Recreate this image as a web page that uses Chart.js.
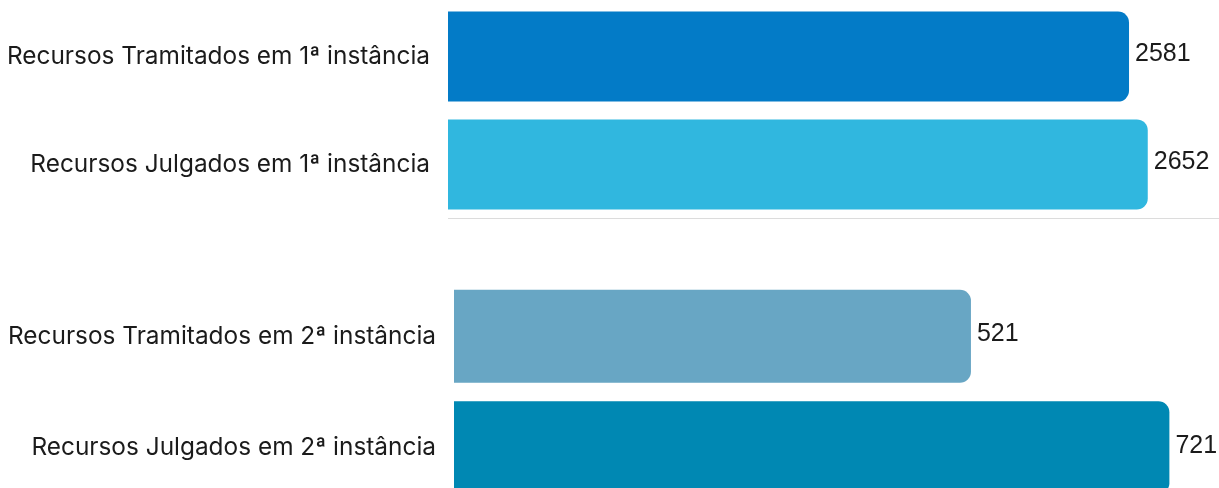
<!DOCTYPE html>
<html>
<head>
<meta charset="utf-8">
<script src="https://cdn.jsdelivr.net/npm/chart.js@4"></script>
<style>
	html, body { margin: 0; padding: 0; background: #fff; overflow: hidden; }
	body { width: 1219px; height: 488px; position: relative; }
	.box { position: absolute; left: 0; width: 1219px; }
	#box1 { top: -30px; height: 281px; }
	#box2 { top: 248px; height: 288px; }
</style>
</head>
<body>
<div class="box" id="box1"><canvas id="chart1"></canvas></div>
<div class="box" id="box2"><canvas id="chart2"></canvas></div>
<script>
	// dados
	const labels1 = ['Recursos Tramitados em 1ª instância', 'Recursos Julgados em 1ª instância']
	const values1 = [2581, 2652]
	const colors1 = ['#037bc7', '#30b7df']

	const labels2 = ['Recursos Tramitados em 2ª instância', 'Recursos Julgados em 2ª instância']
	const values2 = [521, 721]
	const colors2 = ['#68a6c4', '#0088b3']

	const textColor = '#1b1b1b'

	// escreve o valor no fim de cada barra
	const valueLabels = {
		id: 'valueLabels',
		afterDatasetsDraw(chart){
			const ctx = chart.ctx
			ctx.save()
			ctx.font = '25px "Liberation Sans", Arial, sans-serif'
			ctx.fillStyle = textColor
			ctx.textAlign = 'left'
			ctx.textBaseline = 'middle'
			chart.getDatasetMeta(0).data.forEach((bar, i) => {
				ctx.fillText(chart.data.datasets[0].data[i], bar.x + 6, bar.y - 2)
			})
			ctx.restore()
		}
	}

	class BarUtil{
		static draw(canvas, labels, values, colors, axisMax, axisWidth, showLine){
			return new Chart(canvas, {
				type: 'bar',
				data: {
					labels: labels,
					datasets: [{
						data: values,
						backgroundColor: colors,
						borderRadius: 11,
						borderSkipped: 'start',
						categoryPercentage: 1,
						barPercentage: 0.835
					}]
				},
				options: {
					indexAxis: 'y',
					responsive: true,
					maintainAspectRatio: false,
					animation: false,
					layout: { padding: 0 },
					plugins: {
						legend: { display: false },
						tooltip: { enabled: false }
					},
					scales: {
						x: {
							min: 0,
							max: axisMax,
							display: showLine,
							grid: { display: false, drawTicks: false },
							ticks: { display: false },
							border: { display: showLine, color: '#dcdcdc', width: 1 }
						},
						y: {
							grid: { display: false, drawTicks: false },
							border: { display: false },
							ticks: {
								color: textColor,
								padding: 18,
								font: { family: 'Inter, "Noto Sans", sans-serif', size: 24.4 }
							},
							afterFit(scale){ scale.width = axisWidth }
						}
					}
				},
				plugins: [valueLabels]
			})
		}
	}

	BarUtil.draw(document.getElementById('chart1'), labels1, values1, colors1, 2922, 448, true)
	BarUtil.draw(document.getElementById('chart2'), labels2, values2, colors2, 771, 454, false)
</script>
</body>
</html>
